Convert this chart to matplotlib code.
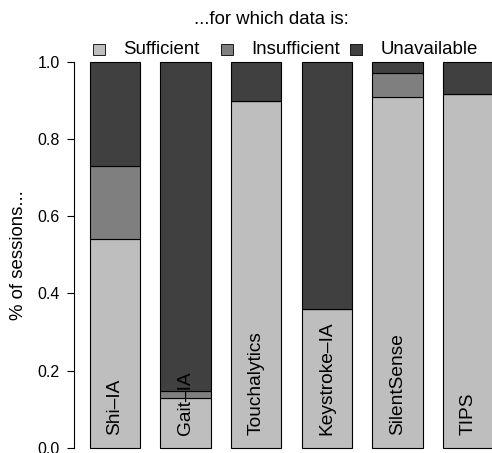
import matplotlib
matplotlib.use("Agg")
import matplotlib.pyplot as plt
from matplotlib.patches import Rectangle
import numpy as np

plt.rcParams['font.family'] = ['Liberation Sans', 'DejaVu Sans']

# share of sessions per scheme, by data availability
schemes = ["Shi\u2013IA", "Gait\u2013IA", "Touchalytics", "Keystroke\u2013IA", "SilentSense", "TIPS"]
sufficient = [0.541, 0.130, 0.898, 0.359, 0.910, 0.917]
insufficient = [0.190, 0.017, 0.0, 0.0, 0.060, 0.0]
unavailable = [1 - s - i for s, i in zip(sufficient, insufficient)]

status = ["Sufficient", "Insufficient", "Unavailable"]
colors = ["#bebebe", "#7f7f7f", "#404040"]
yticks = [0.0, 0.2, 0.4, 0.6, 0.8, 1.0]

W, H, DPI = 492, 453, 100
fig = plt.figure(figsize=(W / DPI, H / DPI), dpi=DPI)

# axes placed in pixels: y=0 at 447.8 px, y=1 at 61.8 px from top
px_per_unit = 386.0
y_lo = -(H - 447.8) / px_per_unit
top_px = 40
y_hi = 1 + (61.8 - top_px) / px_per_unit
left_px = 73.6
x_scale = 50.43
ax = fig.add_axes([left_px / W, 0, 1 - left_px / W, (H - top_px) / H])
ax.set_xlim(0.08, 0.08 + (W - left_px) / x_scale)
ax.set_ylim(y_lo, y_hi)

# barplot layout: width 1, space 0.4
x = 0.9 + 1.4 * np.arange(len(schemes))
bottom = np.zeros(len(schemes))
for vals, col in zip([sufficient, insufficient, unavailable], colors):
    vals = np.array(vals)
    ax.bar(x, vals, width=1.0, bottom=bottom, color=col, edgecolor="black",
           linewidth=0.8, clip_on=False)
    bottom += vals

for xi, name in zip(x, schemes):
    ax.text(xi, 0.033, name, rotation=90, ha="center", va="bottom",
            fontsize=13.8, color="black")

for s in ["top", "right", "bottom"]:
    ax.spines[s].set_visible(False)
ax.spines["left"].set_bounds(0, 1)
ax.spines["left"].set_linewidth(0.8)
ax.set_xticks([])
ax.set_yticks(yticks)
ax.set_yticklabels(["%.1f" % t for t in yticks], fontsize=11.5)
ax.tick_params(axis="y", length=4.8, width=0.8, pad=5.3)
ax.set_ylabel("% of sessions...", fontsize=13.4, va="center")
ax.yaxis.set_label_coords(-(left_px - 18.5) / (W - left_px), (0.5 - y_lo) / (y_hi - y_lo))

# legend across the top
fig.text(271 / W, 1 - 20 / H, "...for which data is:", ha="center", va="center", fontsize=13.4)
key_x = [98.5, 227, 356]
for kx, lab, col in zip(key_x, status, colors):
    fig.patches.append(Rectangle(((kx - 6) / W, 1 - 55 / H), 12 / W, 11 / H,
                                 transform=fig.transFigure, facecolor=col,
                                 edgecolor="black", linewidth=0.6))
    fig.text((kx + 24.2) / W, 1 - 49 / H, lab, ha="left", va="center", fontsize=13.4)

fig.savefig("out.png", dpi=DPI)
